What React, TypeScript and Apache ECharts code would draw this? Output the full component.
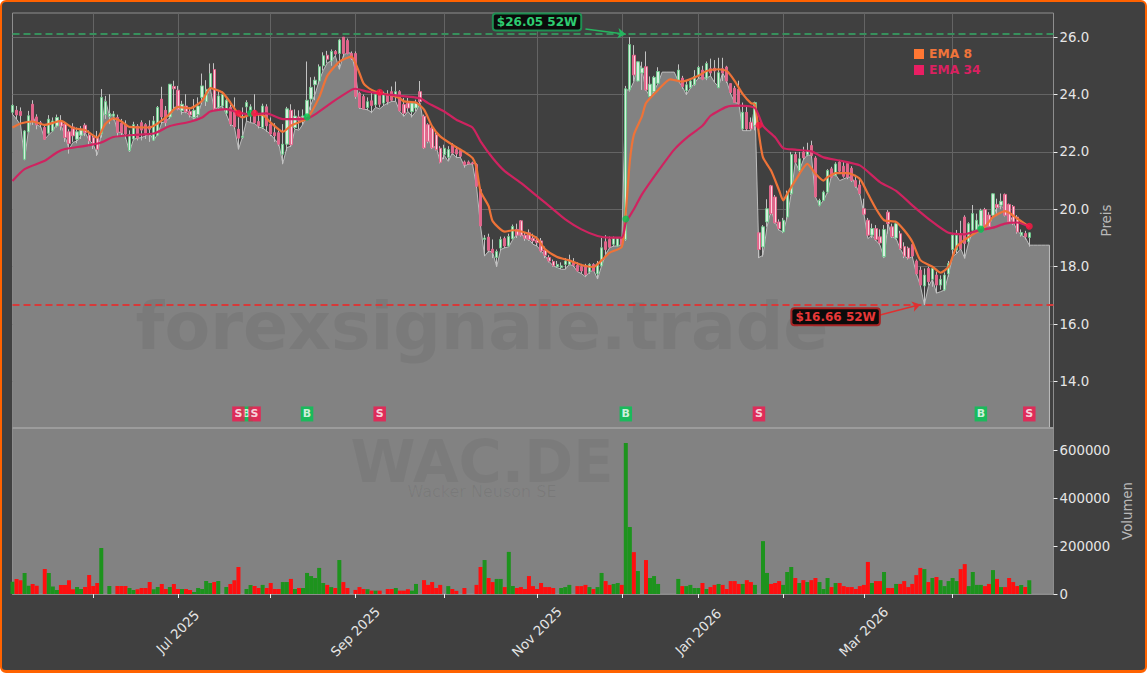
import * as echarts from 'echarts';
import React, { useEffect, useRef } from 'react';

const FONT = '"DejaVu Sans", sans-serif';

// one slot per trading day, the price panel runs from slot 0 to slot 258
const slotCount = 259;
const flatTailSlots = [253, 254, 255, 256, 257];
const flatTailValue = 18.75;

const monthTickSlots = [20, 41, 64, 85, 107, 130, 151, 170, 191, 211, 233];
const monthLabels: Record<number, string> = {
  41: 'Jul 2025',
  85: 'Sep 2025',
  130: 'Nov 2025',
  170: 'Jan 2026',
  211: 'Mar 2026',
};
const priceTicks = [14, 16, 18, 20, 22, 24, 26];
const volumeTicks = [0, 200000, 400000, 600000];

// g = green, r = red, ten days per chunk
const directions = [
  'grrggrrrrg', 'ggrrrrggrr', 'rrggggrrrg', 'grrrrggrrg', 'rrgrrggggg', 'rgggrrrggg',
  'rrgrrrrggr', 'grggggggrg', 'rgrrrrrrgr', 'grgrrgrrrg', 'grrrrrrggr', 'rrrrrrrgrr',
  'ggrggrrrrr', 'rrrrrggggr', 'rrrgrggrrg', 'grggrggrgg', 'ggggggrggg', 'grgrrgrrrr',
  'rgrrgrggrr', 'rgggrgrgrr', 'gggrgrrrrr', 'rrrgrrgrrg', 'rrrrrrgrgr', 'gggggrrggg',
  'grrgrgrrrr', 'grg',
].join('');

const bodyLow = [
  23.38, 23.29, 23.27, 21.74, 22.70, 23.08, 22.94, 22.96, 22.44, 22.65,
  22.73, 22.90, 22.90, 22.50, 22.29, 22.56, 22.44, 22.58, 22.67, 22.38,
  22.27, 22.09, 22.62, 23.30, 23.23, 23.25, 22.68, 22.67, 22.62, 22.05,
  22.45, 22.48, 22.76, 22.65, 22.79, 22.41, 22.58, 23.22, 23.02, 23.22,
  24.20, 23.49, 23.43, 23.40, 23.29, 23.20, 23.30, 23.90, 23.75, 24.25,
  23.50, 23.55, 23.60, 23.35, 22.97, 22.87, 22.48, 22.50, 23.57, 23.45,
  23.02, 22.91, 22.85, 22.91, 22.62, 22.56, 22.27, 21.92, 22.27, 22.25,
  22.85, 23.10, 23.12, 23.26, 23.84, 24.34, 24.47, 25.00, 25.23, 25.17,
  25.41, 25.43, 25.43, 25.43, 25.25, 23.93, 23.55, 23.50, 23.55, 23.62,
  23.64, 23.66, 23.70, 23.75, 23.80, 23.93, 23.43, 23.35, 23.53, 23.40,
  23.53, 23.75, 22.14, 22.37, 22.14, 22.08, 21.64, 21.90, 21.81, 21.96,
  21.93, 21.85, 21.55, 21.58, 21.58, 20.80, 19.42, 18.95, 18.57, 18.49,
  18.32, 18.65, 18.72, 18.72, 18.97, 19.10, 19.10, 18.99, 18.95, 18.90,
  18.84, 18.55, 18.40, 18.20, 18.03, 18.00, 17.97, 18.08, 18.08, 18.05,
  17.85, 17.85, 17.72, 17.82, 17.85, 17.75, 18.03, 18.60, 18.68, 18.78,
  18.72, 18.78, 18.95, 24.16, 24.68, 24.47, 24.75, 24.16, 23.93, 24.10,
  24.39, null, null, null, null, 24.50, 24.28, 24.13, 24.24, 24.34,
  24.63, 24.53, 24.57, 24.75, 24.82, 24.24, 24.75, 24.47, 24.07, 23.72,
  23.69, 22.80, 22.80, 22.80, 22.91, 18.60, 18.69, 19.56, 19.85, 19.53,
  19.33, 19.21, 19.73, 20.54, 21.64, 21.35, 21.80, 21.90, 21.87, 20.43,
  20.14, 20.31, 20.60, 21.12, 21.18, 21.33, 21.15, 21.12, 21.00, 20.80,
  20.55, 19.83, 19.10, 19.10, 18.95, 18.83, 18.35, 19.50, 19.05, 19.00,
  18.63, 18.37, 18.30, 18.37, 17.75, 17.36, 17.33, 17.48, 17.56, 17.36,
  17.36, 17.19, 17.75, 18.60, 18.58, 18.63, 18.81, 18.87, 19.27, 19.30,
  19.38, 19.39, 19.40, 19.79, 20.06, 20.14, 19.79, 19.56, 19.50, 19.21,
  19.10, 19.04, 19.02,
];
const bodyHigh = [
  23.62, 23.45, 23.41, 22.73, 23.26, 23.66, 23.22, 23.02, 22.85, 23.14,
  23.08, 23.20, 23.05, 22.97, 22.70, 22.87, 22.70, 22.76, 22.93, 22.59,
  22.50, 22.50, 23.90, 23.75, 23.34, 23.32, 23.20, 23.00, 22.97, 22.60,
  22.95, 22.90, 23.02, 22.95, 22.90, 23.08, 23.55, 23.84, 23.45, 24.36,
  24.28, 24.15, 23.66, 23.60, 23.41, 23.45, 23.60, 24.30, 24.18, 24.73,
  24.87, 23.95, 24.00, 23.80, 23.55, 23.40, 22.79, 22.55, 23.72, 23.57,
  23.45, 23.06, 23.60, 23.57, 22.97, 22.67, 22.67, 22.27, 23.50, 23.45,
  23.25, 23.22, 23.25, 23.80, 24.25, 24.50, 24.97, 25.35, 25.37, 25.50,
  25.50, 25.90, 26.00, 25.88, 25.43, 25.43, 24.05, 23.93, 23.75, 23.78,
  24.01, 24.08, 24.05, 24.00, 24.10, 24.10, 24.10, 23.65, 23.70, 23.70,
  23.70, 24.10, 23.24, 22.95, 22.83, 22.60, 22.13, 22.13, 22.08, 22.23,
  22.08, 22.05, 21.65, 21.65, 21.62, 21.56, 20.69, 19.00, 19.03, 18.61,
  18.53, 18.95, 18.98, 19.05, 19.40, 19.30, 19.60, 19.10, 19.18, 18.99,
  18.92, 18.90, 18.58, 18.32, 18.18, 18.08, 18.03, 18.20, 18.20, 18.15,
  18.05, 18.00, 18.03, 18.08, 18.08, 18.10, 18.66, 18.87, 18.95, 18.99,
  18.98, 18.98, 24.20, 25.74, 25.37, 25.14, 24.92, 24.97, 24.36, 24.60,
  24.80, null, null, null, null, 24.85, 24.57, 24.34, 24.47, 24.63,
  24.94, 24.85, 25.08, 24.90, 24.92, 24.76, 24.90, 24.96, 24.38, 24.22,
  24.18, 23.38, 23.38, 23.03, 23.72, 19.18, 19.39, 20.02, 20.82, 20.43,
  19.56, 19.62, 20.57, 21.91, 21.91, 21.76, 22.00, 22.03, 22.22, 21.79,
  20.31, 20.60, 21.35, 21.41, 21.58, 21.65, 21.50, 21.60, 21.43, 21.00,
  20.85, 20.02, 19.62, 19.33, 19.33, 19.04, 19.30, 19.90, 19.39, 19.50,
  19.15, 18.70, 18.65, 18.77, 18.20, 17.88, 17.71, 17.94, 17.94, 17.71,
  17.56, 17.71, 18.11, 19.10, 19.10, 19.15, 19.73, 19.50, 19.85, 19.62,
  19.96, 19.99, 19.80, 20.54, 20.17, 20.28, 20.52, 20.17, 20.10, 19.73,
  19.19, 19.16, 19.18,
];
const wickLow = [
  23.30, 23.14, 22.94, 21.71, 22.68, 22.94, 22.79, 22.85, 22.42, 22.60,
  22.70, 22.85, 22.75, 22.35, 21.94, 22.35, 22.30, 22.45, 22.55, 22.20,
  22.10, 21.86, 22.50, 23.15, 22.97, 23.10, 22.55, 22.55, 22.45, 22.00,
  22.40, 22.40, 22.40, 22.45, 22.35, 22.38, 22.55, 22.97, 22.90, 23.15,
  23.50, 23.45, 23.30, 23.35, 23.20, 23.15, 23.20, 23.66, 23.60, 24.19,
  23.43, 23.50, 23.50, 23.25, 22.90, 22.79, 22.09, 22.45, 23.08, 23.02,
  22.99, 22.82, 22.80, 22.70, 22.55, 22.35, 22.20, 21.57, 22.03, 22.17,
  22.79, 22.79, 22.95, 23.20, 23.45, 23.80, 24.36, 24.83, 25.10, 25.00,
  25.35, 24.88, 25.30, 25.40, 25.20, 23.85, 23.50, 23.48, 23.45, 23.35,
  23.55, 23.55, 23.60, 23.65, 23.76, 23.76, 23.40, 23.24, 23.41, 23.20,
  23.41, 23.70, 22.10, 22.30, 22.10, 22.05, 21.60, 21.75, 21.70, 21.90,
  21.80, 21.80, 21.45, 21.55, 21.55, 20.75, 19.38, 18.37, 18.50, 18.30,
  18.00, 18.55, 18.65, 18.70, 18.95, 19.00, 19.05, 18.90, 18.90, 18.80,
  18.72, 18.50, 18.30, 18.15, 18.00, 17.97, 17.92, 17.91, 18.05, 18.00,
  17.83, 17.76, 17.65, 17.75, 17.85, 17.57, 18.00, 18.43, 18.65, 18.70,
  18.70, 18.75, 18.90, 24.10, 24.45, 24.45, 24.16, 24.13, 23.90, 24.05,
  24.35, null, null, null, null, 24.45, 24.20, 23.99, 24.20, 24.30,
  24.55, 24.50, 24.50, 24.65, 24.42, 24.22, 24.47, 24.40, 24.01, 23.72,
  23.65, 22.74, 22.73, 22.75, 22.75, 18.30, 18.35, 19.39, 19.80, 19.50,
  19.27, 19.17, 19.65, 20.50, 21.60, 21.30, 21.72, 21.85, 21.80, 20.40,
  20.10, 20.30, 20.55, 21.10, 21.15, 21.30, 21.10, 21.05, 20.95, 20.75,
  20.50, 19.80, 19.05, 19.00, 18.90, 18.75, 18.30, 19.15, 19.00, 18.95,
  18.60, 18.30, 18.25, 18.30, 17.70, 17.30, 16.67, 17.35, 17.30, 17.08,
  17.20, 17.15, 17.65, 18.35, 18.46, 18.60, 18.29, 18.85, 19.21, 19.25,
  19.35, 19.33, 19.38, 19.75, 19.85, 20.00, 19.75, 19.50, 19.45, 19.15,
  19.05, 18.95, 18.70,
];
const wickHigh = [
  23.66, 23.60, 23.55, 22.76, 23.43, 23.80, 23.31, 23.08, 22.90, 23.28,
  23.20, 23.30, 23.28, 23.05, 22.79, 23.00, 22.85, 22.90, 23.00, 22.75,
  22.60, 22.73, 24.19, 23.95, 24.01, 23.42, 23.30, 23.15, 23.10, 22.75,
  23.05, 22.97, 23.10, 23.00, 23.10, 23.25, 23.60, 24.27, 23.60, 24.36,
  24.48, 24.30, 23.78, 24.01, 23.55, 23.84, 23.90, 24.73, 24.50, 25.08,
  25.09, 24.13, 24.10, 23.90, 23.65, 23.90, 23.20, 23.55, 23.80, 23.66,
  24.01, 23.31, 23.68, 23.66, 23.20, 23.00, 22.75, 22.97, 23.57, 23.66,
  23.48, 23.45, 23.48, 25.15, 24.60, 24.62, 25.05, 25.47, 25.52, 25.57,
  25.55, 25.94, 26.00, 25.95, 25.50, 25.50, 24.10, 24.00, 23.90, 24.05,
  24.10, 24.15, 24.10, 24.15, 24.28, 24.45, 24.15, 23.88, 23.88, 23.75,
  23.82, 24.47, 23.30, 23.00, 22.90, 22.68, 22.20, 22.25, 22.20, 22.30,
  22.20, 22.10, 21.70, 21.70, 21.66, 21.60, 20.75, 19.10, 19.15, 18.95,
  18.60, 19.05, 19.05, 19.15, 19.47, 19.50, 19.62, 19.20, 19.30, 19.15,
  19.05, 19.00, 18.70, 18.40, 18.25, 18.20, 18.15, 18.30, 18.42, 18.30,
  18.15, 18.10, 18.10, 18.12, 18.12, 18.20, 19.00, 19.10, 19.05, 19.05,
  19.02, 19.02, 24.30, 26.00, 25.72, 25.14, 25.14, 25.50, 24.63, 24.65,
  24.95, null, null, null, null, 25.05, 24.65, 24.50, 24.55, 24.85,
  25.00, 25.00, 25.15, 25.25, 25.20, 25.28, 25.28, 25.00, 24.38, 24.30,
  24.48, 23.72, 23.60, 23.20, 23.75, 19.20, 19.45, 20.35, 20.85, 20.50,
  19.65, 19.70, 20.65, 22.00, 22.00, 22.00, 22.18, 22.32, 22.39, 21.85,
  20.37, 20.65, 21.40, 21.48, 21.64, 21.72, 21.65, 21.68, 21.50, 21.20,
  21.10, 20.37, 19.70, 19.50, 19.45, 19.30, 19.45, 19.97, 19.50, 19.55,
  19.25, 18.85, 18.70, 18.85, 18.25, 18.00, 17.94, 18.00, 18.00, 17.83,
  17.70, 17.80, 18.20, 19.15, 19.28, 19.60, 19.79, 19.55, 20.15, 19.85,
  20.02, 20.05, 19.90, 20.55, 20.37, 20.55, 20.55, 20.20, 20.15, 19.80,
  19.30, 19.25, 19.20,
];
const closeLine = [
  23.31, 23.14, 22.94, 21.74, 22.80, 23.25, 22.94, 22.88, 22.44, 22.60,
  22.73, 22.99, 22.95, 22.56, 22.09, 22.33, 22.38, 22.56, 22.67, 22.41,
  22.27, 21.90, 22.65, 23.84, 23.26, 23.31, 22.70, 22.67, 22.52, 22.00,
  22.44, 22.48, 22.50, 22.56, 22.64, 22.41, 22.62, 23.02, 23.06, 23.20,
  23.55, 23.57, 23.37, 23.40, 23.26, 23.14, 23.31, 23.78, 23.90, 24.22,
  23.49, 23.55, 23.60, 23.31, 22.97, 22.87, 22.09, 22.52, 23.08, 23.02,
  22.99, 22.87, 22.83, 22.73, 22.60, 22.44, 22.27, 21.60, 22.15, 22.20,
  22.79, 22.76, 22.97, 23.31, 23.66, 24.01, 24.48, 24.83, 25.10, 25.17,
  25.35, 24.88, 25.35, 25.47, 25.43, 24.80, 23.53, 23.49, 23.47, 23.38,
  23.55, 23.50, 23.62, 23.70, 23.76, 23.76, 23.41, 23.24, 23.41, 23.24,
  23.41, 23.70, 22.89, 22.48, 22.14, 22.20, 21.64, 21.88, 21.67, 21.96,
  21.80, 21.81, 21.50, 21.58, 21.58, 20.80, 19.42, 18.37, 18.55, 18.50,
  18.00, 18.60, 18.66, 18.69, 18.95, 19.13, 19.15, 18.99, 18.95, 18.78,
  18.72, 18.55, 18.38, 18.18, 18.03, 17.97, 17.91, 17.91, 18.08, 18.03,
  17.83, 17.76, 17.65, 17.82, 17.88, 17.57, 18.03, 18.43, 18.66, 18.72,
  18.72, 18.78, 24.16, 24.16, 24.45, 25.14, 24.86, 24.16, 23.93, 24.13,
  24.39, 24.78, 24.78, 24.78, 24.78, 24.47, 24.28, 23.99, 24.22, 24.39,
  24.57, 24.59, 24.57, 24.65, 24.42, 24.27, 24.76, 24.47, 24.01, 23.72,
  23.69, 22.74, 22.74, 22.74, 23.66, 18.32, 18.40, 19.39, 19.97, 19.56,
  19.27, 19.21, 19.73, 20.54, 21.64, 21.35, 21.72, 21.90, 21.87, 20.43,
  20.14, 20.31, 20.60, 21.18, 21.21, 21.00, 21.06, 21.12, 21.12, 20.83,
  20.54, 19.85, 18.98, 19.10, 18.92, 18.75, 18.31, 19.50, 19.04, 18.98,
  18.63, 18.37, 18.29, 18.35, 17.77, 17.34, 16.67, 17.31, 17.56, 17.08,
  17.13, 17.19, 17.75, 18.35, 18.46, 18.63, 18.29, 18.87, 19.21, 19.29,
  19.62, 19.71, 19.39, 19.79, 20.06, 20.14, 19.97, 19.85, 19.56, 19.27,
  19.10, 19.02, 18.75,
];

// volume per day in thousands of shares
const volumeThousands = [
  51, 63, 58, 88, 35, 42, 35, 0, 104, 88,
  31, 17, 38, 38, 58, 20, 29, 21, 29, 79,
  33, 46, 192, 0, 33, 0, 33, 33, 33, 25,
  17, 20, 25, 25, 50, 20, 29, 42, 21, 29,
  42, 21, 21, 21, 17, 8, 25, 21, 54, 46,
  50, 54, 0, 29, 42, 58, 113, 0, 21, 38,
  33, 25, 38, 25, 46, 21, 21, 50, 50, 63,
  21, 25, 25, 88, 75, 67, 109, 46, 38, 29,
  25, 142, 50, 25, 0, 17, 29, 21, 20, 14,
  14, 14, 0, 21, 21, 25, 14, 14, 20, 14,
  42, 0, 58, 38, 50, 25, 38, 0, 33, 21,
  13, 0, 25, 0, 0, 38, 113, 142, 67, 50,
  63, 63, 29, 176, 33, 25, 29, 21, 75, 33,
  21, 46, 29, 29, 25, 0, 25, 29, 38, 0,
  33, 33, 38, 29, 21, 29, 88, 54, 38, 42,
  46, 38, 631, 280, 175, 96, 0, 142, 67, 75,
  42, 0, 0, 0, 0, 63, 33, 33, 38, 25,
  25, 46, 21, 29, 38, 42, 38, 21, 54, 54,
  42, 42, 58, 50, 38, 0, 221, 88, 42, 46,
  54, 38, 92, 113, 67, 46, 58, 50, 58, 67,
  50, 21, 67, 29, 46, 46, 33, 29, 29, 21,
  33, 38, 134, 46, 54, 54, 92, 25, 25, 42,
  42, 54, 29, 42, 79, 109, 104, 50, 67, 71,
  58, 33, 54, 67, 54, 104, 125, 33, 92, 38,
  38, 33, 42, 100, 63, 29, 29, 67, 50, 33,
  38, 29, 58,
];

// at their bends: [slot, value]
const ema8Points = [
  [0, 22.85], [2, 22.99], [5, 23.06], [8, 22.94], [12, 23.08], [15, 22.83], [18, 22.76],
  [21, 22.5], [23, 22.97], [25, 23.17], [27, 23.06], [29, 22.87], [34, 22.85], [38, 23.2],
  [41, 23.57], [44, 23.52], [47, 23.78], [49, 24.22], [52, 24.07], [54, 23.72], [56, 23.31],
  [57, 23.2], [59, 23.31], [62, 23.29], [64, 23.02], [67, 22.7], [69, 22.91], [73, 23.17],
  [76, 23.9], [78, 24.65], [81, 25.14], [84, 25.32], [86, 24.74], [87, 24.39], [89, 24.16],
  [91, 24.05], [94, 23.97], [96, 23.87], [97, 23.76], [100, 23.72], [102, 23.47], [104, 22.89],
  [106, 22.54], [109, 22.25], [112, 22.0], [114, 21.79], [115, 21.44], [116, 20.63], [118, 20.11],
  [119, 19.59], [122, 19.22], [124, 19.27], [127, 19.19], [130, 18.99], [132, 18.61], [135, 18.34],
  [138, 18.22], [141, 18.06], [144, 17.99], [146, 18.22], [148, 18.49], [151, 18.69], [152, 19.9],
  [153, 21.67], [154, 22.6], [156, 23.24], [157, 23.7], [160, 24.16], [163, 24.53], [166, 24.45],
  [170, 24.65], [172, 24.82], [175, 24.88], [177, 24.82], [179, 24.47], [181, 24.01], [183, 23.7],
  [184, 23.66], [185, 22.62], [186, 21.81], [188, 21.35], [190, 20.66], [191, 20.31], [192, 20.54],
  [194, 21.0], [197, 21.58], [199, 21.24], [201, 21.0], [202, 21.12], [204, 21.26], [207, 21.26],
  [210, 21.06], [212, 20.54], [214, 20.02], [216, 19.62], [219, 19.56], [221, 19.27], [223, 18.87],
  [225, 18.23], [228, 18.0], [230, 17.79], [232, 18.0], [234, 18.69], [237, 19.04], [239, 19.21],
  [241, 19.39], [243, 19.73], [246, 19.94], [247, 19.88], [249, 19.68], [252, 19.39],
];
const ema34Points = [
  [0, 20.99], [3, 21.4], [8, 21.69], [11, 21.98], [13, 22.1], [18, 22.21], [22, 22.33],
  [25, 22.52], [30, 22.59], [35, 22.64], [39, 22.9], [44, 23.05], [47, 23.2], [49, 23.41],
  [53, 23.49], [56, 23.37], [59, 23.31], [63, 23.34], [67, 23.14], [73, 23.17], [75, 23.31],
  [79, 23.71], [84, 24.16], [85, 24.2], [88, 24.1], [92, 24.01], [95, 23.97], [101, 23.87],
  [103, 23.7], [107, 23.41], [110, 23.12], [114, 22.85], [116, 22.37], [119, 21.79], [122, 21.33],
  [126, 20.92], [130, 20.46], [134, 20.0], [137, 19.65], [141, 19.3], [145, 19.07], [148, 19.01],
  [151, 19.01], [152, 19.53], [154, 20.0], [156, 20.52], [160, 21.33], [164, 22.08], [167, 22.48],
  [171, 22.91], [173, 23.26], [177, 23.57], [180, 23.61], [184, 23.53], [186, 22.91], [189, 22.51],
  [191, 22.13], [194, 22.08], [198, 22.02], [201, 21.81], [205, 21.7], [210, 21.53], [215, 20.95],
  [219, 20.64], [223, 20.14], [228, 19.56], [232, 19.18], [236, 19.13], [239, 19.25], [243, 19.36],
  [246, 19.5], [249, 19.54], [252, 19.39],
];

const buySlots = [58, 73, 152, 240];
const sellSlots = [56, 60, 91, 185, 252];
const buyDots = [[59, 23.35], [73, 23.22], [152, 19.66], [240, 19.31]];
const sellDots = [[56, 23.35], [60, 23.35], [91, 24.08], [185, 22.93], [252, 19.41]];

const priceMin = 12.38;
const priceMax = 26.84;
const volumeMax = 694000;
const signalLevel = 12.87;
const high52 = 26.11;
const low52 = 16.67;

const GRID_LINE = '#646464';
const PANEL_GRAY = '#828282';
const AREA_STROKE = '#bdbdbd';
const GREEN_BAR = '#1d931d';
const RED_BAR = '#ff0f0f';

const showMonth = (i: number) => monthTickSlots.includes(i);

const App: React.FC = () => {
  const chartRef = useRef<HTMLDivElement>(null);

  useEffect(() => {
    if (!chartRef.current) return;

    const chart = echarts.init(chartRef.current, undefined, { renderer: 'svg' });

    const slots = Array.from({ length: slotCount }, (_, i) => String(i));
    const areaData: number[][] = closeLine.map((v, i) => [i, v]);
    flatTailSlots.forEach((s) => areaData.push([s, flatTailValue]));
    areaData.push([flatTailSlots[flatTailSlots.length - 1], priceMin]);

    const candleRows = bodyLow.map((low, i) => {
      const high = bodyHigh[i];
      if (low === null || high === null) return ['-', '-', '-', '-'];
      return directions[i] === 'g' ? [low, high, wickLow[i], wickHigh[i]] : [high, low, wickLow[i], wickHigh[i]];
    });
    const bodyRows = candleRows.map((r) => (r[0] === '-' ? r : [r[0], r[1], r[0], r[1]]));

    const signalLabel = (text: string) => ({
      show: true,
      position: 'inside',
      formatter: text,
      color: '#fff',
      fontWeight: 'bold',
      fontSize: 11,
      fontFamily: FONT,
    });

    const noteLabel = (text: string, color: string, border: string) => ({
      show: true,
      position: 'inside',
      formatter: text,
      color,
      fontWeight: 'bold',
      fontSize: 12,
      fontFamily: FONT,
      backgroundColor: '#0b0b0b',
      borderColor: border,
      borderWidth: 2,
      borderRadius: 2,
      padding: [2, 3, 1, 3],
    });

    const option: any = {
      animation: false,
      textStyle: { fontFamily: FONT },
      grid: [
        { left: 12.5, top: 13, width: 1041, height: 415, show: true, borderColor: '#8e8e8e', borderWidth: 1 },
        {
          left: 12.5,
          top: 428,
          width: 1041,
          height: 166,
          show: true,
          backgroundColor: PANEL_GRAY,
          borderColor: '#8e8e8e',
          borderWidth: 1,
        },
      ],
      xAxis: [
        {
          type: 'category',
          gridIndex: 0,
          data: slots,
          boundaryGap: false,
          axisLine: { show: false },
          axisTick: { show: false },
          axisLabel: { show: false },
          splitLine: { show: true, interval: showMonth, lineStyle: { color: GRID_LINE, width: 1 } },
        },
        {
          type: 'category',
          gridIndex: 1,
          data: slots,
          boundaryGap: false,
          axisLine: { show: true, lineStyle: { color: '#8e8e8e' } },
          axisTick: { show: true, interval: showMonth, length: 4, lineStyle: { color: '#eee' } },
          splitLine: { show: false },
          axisLabel: {
            show: true,
            interval: (i: number) => monthLabels[i] !== undefined,
            formatter: (_: string, i: number) => monthLabels[i] ?? '',
            rotate: 45,
            align: 'center',
            verticalAlign: 'middle',
            margin: 38,
            color: '#e6e6e6',
            fontSize: 13.3,
          },
        },
      ],
      yAxis: [
        {
          type: 'value',
          gridIndex: 0,
          position: 'right',
          min: priceMin,
          max: priceMax,
          splitNumber: 7,
          axisLine: { show: false },
          axisTick: { show: true, length: 4, customValues: priceTicks, lineStyle: { color: '#eee' } },
          splitLine: { show: true, lineStyle: { color: GRID_LINE, width: 1 } },
          axisLabel: {
            customValues: priceTicks,
            formatter: (v: number) => v.toFixed(1),
            color: '#e6e6e6',
            fontSize: 13.3,
            margin: 6,
          },
          name: 'Preis',
          nameLocation: 'middle',
          nameRotate: 90,
          nameGap: 52,
          nameTextStyle: { color: '#b9b9b9', fontSize: 13.3, verticalAlign: 'middle' },
        },
        {
          type: 'value',
          gridIndex: 1,
          position: 'right',
          min: 0,
          max: volumeMax,
          axisLine: { show: false },
          axisTick: { show: true, length: 4, customValues: volumeTicks, lineStyle: { color: '#eee' } },
          splitLine: { show: false },
          axisLabel: {
            customValues: volumeTicks,
            formatter: (v: number) => String(v),
            color: '#e6e6e6',
            fontSize: 13.3,
            margin: 6,
          },
          name: 'Volumen',
          nameLocation: 'middle',
          nameRotate: 90,
          nameGap: 74,
          nameTextStyle: { color: '#b9b9b9', fontSize: 13.3, verticalAlign: 'middle' },
        },
      ],
      legend: {
        left: 914,
        top: 48,
        orient: 'vertical',
        icon: 'rect',
        itemWidth: 10,
        itemHeight: 10,
        itemGap: 4,
        selectedMode: false,
        padding: 0,
        data: [
          { name: 'EMA 8', textStyle: { color: '#f0743a', fontWeight: 'bold', fontSize: 12.3 } },
          { name: 'EMA 34', textStyle: { color: '#d92160', fontWeight: 'bold', fontSize: 12.3 } },
        ],
      },
      graphic: [
        {
          type: 'text',
          z: 3,
          x: 482,
          y: 326,
          style: {
            text: 'forexsignale.trade',
            font: `bold 66.5px ${FONT}`,
            fill: 'rgba(0,0,0,0.06)',
            textAlign: 'center',
            textVerticalAlign: 'middle',
          },
        },
        {
          type: 'text',
          z: 3,
          x: 482,
          y: 461,
          style: {
            text: 'WAC.DE',
            font: `bold 59px ${FONT}`,
            fill: 'rgba(0,0,0,0.05)',
            textAlign: 'center',
            textVerticalAlign: 'middle',
          },
        },
        {
          type: 'text',
          z: 3,
          x: 482,
          y: 491,
          style: {
            text: 'Wacker Neuson SE',
            font: `16px ${FONT}`,
            fill: 'rgba(0,0,0,0.06)',
            textAlign: 'center',
            textVerticalAlign: 'middle',
          },
        },
        {
          type: 'line',
          z: 4,
          shape: { x1: 12.5, y1: 428, x2: 1053.5, y2: 428 },
          style: { stroke: '#9c9c9c', lineWidth: 2 },
        },
      ],
      series: [
        {
          name: 'Close',
          type: 'line',
          xAxisIndex: 0,
          yAxisIndex: 0,
          z: 1,
          data: areaData,
          symbol: 'none',
          lineStyle: { color: AREA_STROKE, width: 1 },
          areaStyle: { color: PANEL_GRAY, opacity: 1 },
        },
        {
          name: 'Wicks',
          type: 'candlestick',
          xAxisIndex: 0,
          yAxisIndex: 0,
          z: 5,
          barWidth: 1,
          data: candleRows,
          itemStyle: { color: '#c2c2c2', color0: '#c2c2c2', borderColor: '#c2c2c2', borderColor0: '#c2c2c2', borderWidth: 1 },
        },
        {
          name: 'Bodies',
          type: 'candlestick',
          xAxisIndex: 0,
          yAxisIndex: 0,
          z: 6,
          barWidth: 2.8,
          data: bodyRows,
          itemStyle: { color: '#d9efe0', color0: '#f7d6de', borderColor: '#6bc98a', borderColor0: '#e4638a', borderWidth: 0.9 },
        },
        {
          name: 'EMA 8',
          type: 'line',
          xAxisIndex: 0,
          yAxisIndex: 0,
          z: 7,
          data: ema8Points,
          symbol: 'none',
          smooth: 0.2,
          itemStyle: { color: '#ff7733' },
          lineStyle: { color: '#ee7338', width: 2.2 },
        },
        {
          name: 'EMA 34',
          type: 'line',
          xAxisIndex: 0,
          yAxisIndex: 0,
          z: 7,
          data: ema34Points,
          symbol: 'none',
          smooth: 0.2,
          itemStyle: { color: '#e91e63' },
          lineStyle: { color: '#cf2360', width: 2.2 },
        },
        {
          name: 'Levels',
          type: 'line',
          xAxisIndex: 0,
          yAxisIndex: 0,
          z: 8,
          data: [],
          markLine: {
            silent: true,
            symbol: 'none',
            label: { show: false },
            data: [
              { yAxis: high52, lineStyle: { color: '#37905c', type: [7, 4], width: 1.8 } },
              { yAxis: low52, lineStyle: { color: '#d63a3a', type: [7, 4], width: 1.8 } },
              [
                { coord: [142, 26.28], symbol: 'none', lineStyle: { color: '#25b65f', type: 'solid', width: 1.5 } },
                { coord: [152, 26.1], symbol: 'arrow', symbolSize: 8 },
              ],
              [
                { coord: [215, 16.32], symbol: 'none', lineStyle: { color: '#e03030', type: 'solid', width: 1.5 } },
                { coord: [225, 16.68], symbol: 'arrow', symbolSize: 8 },
              ],
            ],
          },
          markPoint: {
            symbol: 'rect',
            symbolSize: 1,
            itemStyle: { color: 'transparent' },
            data: [
              { coord: [130, 26.53], label: noteLabel('$26.05 52W', '#2ecc71', '#1f8f52') },
              { coord: [204, 16.26], label: noteLabel('$16.66 52W', '#e83838', '#a82424') },
            ],
          },
        },
        {
          name: 'Buy dots',
          type: 'scatter',
          xAxisIndex: 0,
          yAxisIndex: 0,
          z: 9,
          symbolSize: 7,
          data: buyDots,
          itemStyle: { color: '#00c853' },
        },
        {
          name: 'Sell dots',
          type: 'scatter',
          xAxisIndex: 0,
          yAxisIndex: 0,
          z: 9,
          symbolSize: 7,
          data: sellDots,
          itemStyle: { color: '#ff1744' },
        },
        {
          name: 'Buy',
          type: 'scatter',
          xAxisIndex: 0,
          yAxisIndex: 0,
          z: 9,
          symbol: 'rect',
          symbolSize: [12.5, 15],
          data: buySlots.map((s) => [s, signalLevel]),
          itemStyle: { color: '#00c853' },
          label: signalLabel('B'),
        },
        {
          name: 'Sell',
          type: 'scatter',
          xAxisIndex: 0,
          yAxisIndex: 0,
          z: 10,
          symbol: 'rect',
          symbolSize: [12.5, 15],
          data: sellSlots.map((s) => [s, signalLevel]),
          itemStyle: { color: '#f5174f' },
          label: signalLabel('S'),
        },
        {
          name: 'Volume',
          type: 'bar',
          xAxisIndex: 1,
          yAxisIndex: 1,
          z: 5,
          barWidth: 4,
          data: volumeThousands.map((v, i) => ({
            value: v * 1000,
            itemStyle: { color: directions[i] === 'g' ? GREEN_BAR : RED_BAR },
          })),
        },
      ],
    };

    chart.setOption(option);

    return () => {
      chart.dispose();
    };
  }, []);

  return (
    <div
      style={{
        position: 'fixed',
        left: 0,
        top: 0,
        width: 1147,
        height: 673,
        boxSizing: 'border-box',
        border: '2px solid #ff6200',
        borderBottomWidth: 3,
        borderRadius: 6,
        background: '#404040',
        overflow: 'hidden',
      }}
    >
      <div ref={chartRef} style={{ position: 'absolute', left: -2, top: -2, width: 1147, height: 673 }} />
    </div>
  );
};

export default App;
